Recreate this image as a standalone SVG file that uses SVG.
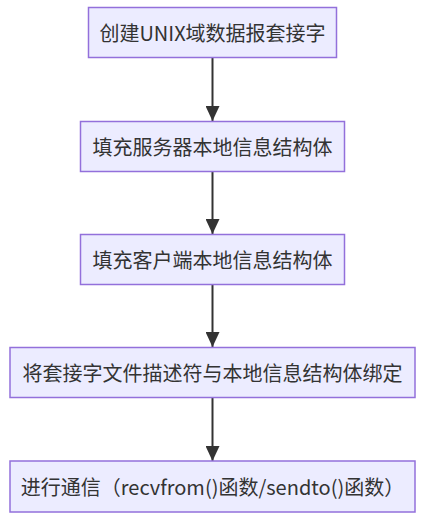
<svg xmlns="http://www.w3.org/2000/svg" width="430" height="522" viewBox="0 0 430 522">
<defs>
<marker id="arrow" markerWidth="15" markerHeight="14" refX="15" refY="7" orient="auto" markerUnits="userSpaceOnUse">
<path d="M0,0 L15,7 L0,14 Z" fill="#333333"/>
</marker>
<style>
.node rect{fill:#ECECFF;stroke:#9370DB;stroke-width:1.5}
.node text{font-family:"Noto Sans CJK SC","Noto Sans",sans-serif;font-size:20px;fill:#333333;text-anchor:middle;dominant-baseline:central}
.edge{stroke:#333333;stroke-width:2;fill:none;marker-end:url(#arrow)}
</style>
</defs>
<rect width="430" height="522" fill="#ffffff"/>
<g id="edges">
<path class="edge" d="M212.5,58 L212.5,121"/>
<path class="edge" d="M212.5,172 L212.5,234"/>
<path class="edge" d="M212.5,285 L212.5,347"/>
<path class="edge" d="M212.5,398 L212.5,461"/>
</g>
<g id="n1" class="node"><rect x="88.5" y="7.5" width="248" height="50"/><text x="212.5" y="32.5">创建UNIX域数据报套接字</text></g>
<g id="n2" class="node"><rect x="80.5" y="121.5" width="264" height="50"/><text x="212.5" y="146.5">填充服务器本地信息结构体</text></g>
<g id="n3" class="node"><rect x="80.5" y="234.5" width="264" height="50"/><text x="212.5" y="259.5">填充客户端本地信息结构体</text></g>
<g id="n4" class="node"><rect x="10" y="347.5" width="405" height="50"/><text x="212.5" y="372.5">将套接字文件描述符与本地信息结构体绑定</text></g>
<g id="n5" class="node"><rect x="10" y="461" width="405" height="51"/><text x="212.5" y="486.5">进行通信（recvfrom()函数/sendto()函数）</text></g>
</svg>
